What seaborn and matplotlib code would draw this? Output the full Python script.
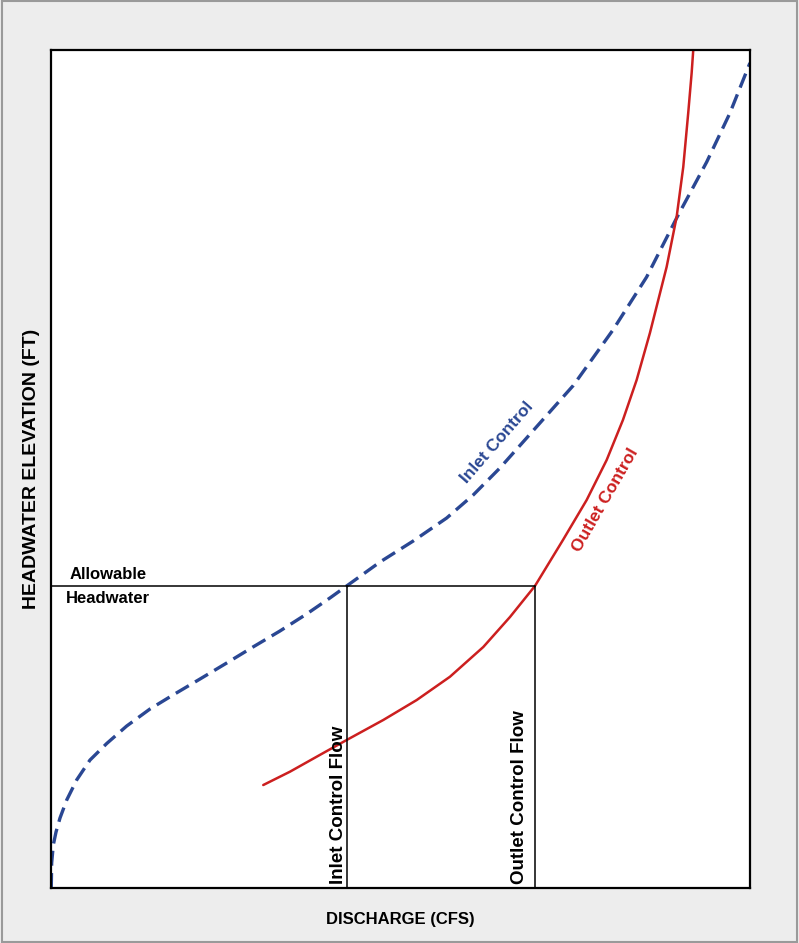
import numpy as np
import pandas as pd
import matplotlib.pyplot as plt
import seaborn as sns

# curve values (0-100 scale on both axes)
inlet_x = [0.04, 0.10, 0.33, 0.72, 1.29, 2.25, 3.68, 5.58, 7.97, 10.83, 14.16, 17.45,
           21.32, 25.14, 28.90, 32.76, 36.58, 39.91, 42.30, 47.07, 51.83, 56.61,
           60.41, 64.23, 68.05, 71.86, 74.72, 80.40, 85.22, 89.51, 93.81, 97.14, 100.0]
inlet_y = [0.0, 2.98, 5.13, 6.68, 8.35, 10.50, 12.90, 15.27, 17.24, 19.33, 21.36, 23.03,
           24.94, 26.85, 28.76, 30.67, 32.70, 34.61, 36.04, 38.90, 41.41, 44.15,
           46.90, 50.12, 53.70, 57.28, 59.96, 66.59, 72.91, 79.95, 86.63, 92.48, 98.45]
outlet_x = [30.37, 34.19, 38.96, 42.30, 47.54, 52.32, 57.08, 61.85, 65.67, 69.24,
            73.25, 76.64, 79.50, 81.83, 83.79, 85.69, 88.08, 89.51, 90.46, 91.17,
            91.66, 91.89]
outlet_y = [12.29, 13.88, 16.11, 17.66, 20.05, 22.43, 25.21, 28.76, 32.34, 36.04,
            41.53, 46.30, 51.07, 55.85, 60.62, 66.23, 74.11, 80.07, 86.04, 92.48,
            97.26, 100.0]

allowable_hw = 36.04
inlet_flow = 42.30
outlet_flow = 69.24

sns.set_style("white")
plt.rcParams['font.family'] = ['Liberation Sans', 'DejaVu Sans']
plt.rcParams['text.color'] = 'black'
plt.rcParams['axes.labelcolor'] = 'black'

blue = '#2a4793'
red = '#cc1f1f'

fig = plt.figure(figsize=(7.99, 9.43), dpi=100, facecolor='#ededed')
ax = fig.add_axes([0.0638, 0.0583, 0.8748, 0.8887])
ax.set_facecolor('white')

inlet = pd.DataFrame({'Q': inlet_x, 'HW': inlet_y})
outlet = pd.DataFrame({'Q': outlet_x, 'HW': outlet_y})

sns.lineplot(data=inlet, x='Q', y='HW', ax=ax, color=blue, lw=2.4,
             estimator=None, sort=False)
ax.lines[-1].set_dashes((4.5, 2.2))
sns.lineplot(data=outlet, x='Q', y='HW', ax=ax, color=red, lw=1.8,
             estimator=None, sort=False)

# allowable headwater and the two flows
ax.plot([0, outlet_flow], [allowable_hw, allowable_hw], color='black', lw=1.1)
ax.plot([inlet_flow, inlet_flow], [0, allowable_hw], color='black', lw=1.1)
ax.plot([outlet_flow, outlet_flow], [0, allowable_hw], color='black', lw=1.1)

ax.set_xlim(0, 100)
ax.set_ylim(0, 100)
ax.set_xticks([])
ax.set_yticks([])
for s in ax.spines.values():
    s.set_color('black')
    s.set_linewidth(1.6)

ax.text(2.7, 36.5, 'Allowable', fontsize=12, fontweight='bold', va='bottom')
ax.text(2.1, 35.4, 'Headwater', fontsize=12, fontweight='bold', va='top')
ax.text(63.8, 53.2, 'Inlet Control', fontsize=12.5, fontweight='bold', color=blue,
        rotation=49, ha='center', va='center')
ax.text(79.3, 46.3, 'Outlet Control', fontsize=12.5, fontweight='bold', color=red,
        rotation=60, ha='center', va='center')
ax.text(41.2, 9.9, 'Inlet Control Flow', fontsize=13.5, fontweight='bold',
        rotation=90, ha='center', va='center')
ax.text(67.1, 10.9, 'Outlet Control Flow', fontsize=13.5, fontweight='bold',
        rotation=90, ha='center', va='center')

ax.set_xlabel('DISCHARGE (CFS)', fontsize=12, fontweight='bold', labelpad=17)
ax.set_ylabel('HEADWATER ELEVATION (FT)', fontsize=14, fontweight='bold', labelpad=8)

fig.patches.append(plt.Rectangle((0.002, 0.001), 0.996, 0.998, transform=fig.transFigure,
                                 fill=False, edgecolor='#9a9a9a', lw=1.5))

fig.savefig('out.png', dpi=100, facecolor=fig.get_facecolor())
